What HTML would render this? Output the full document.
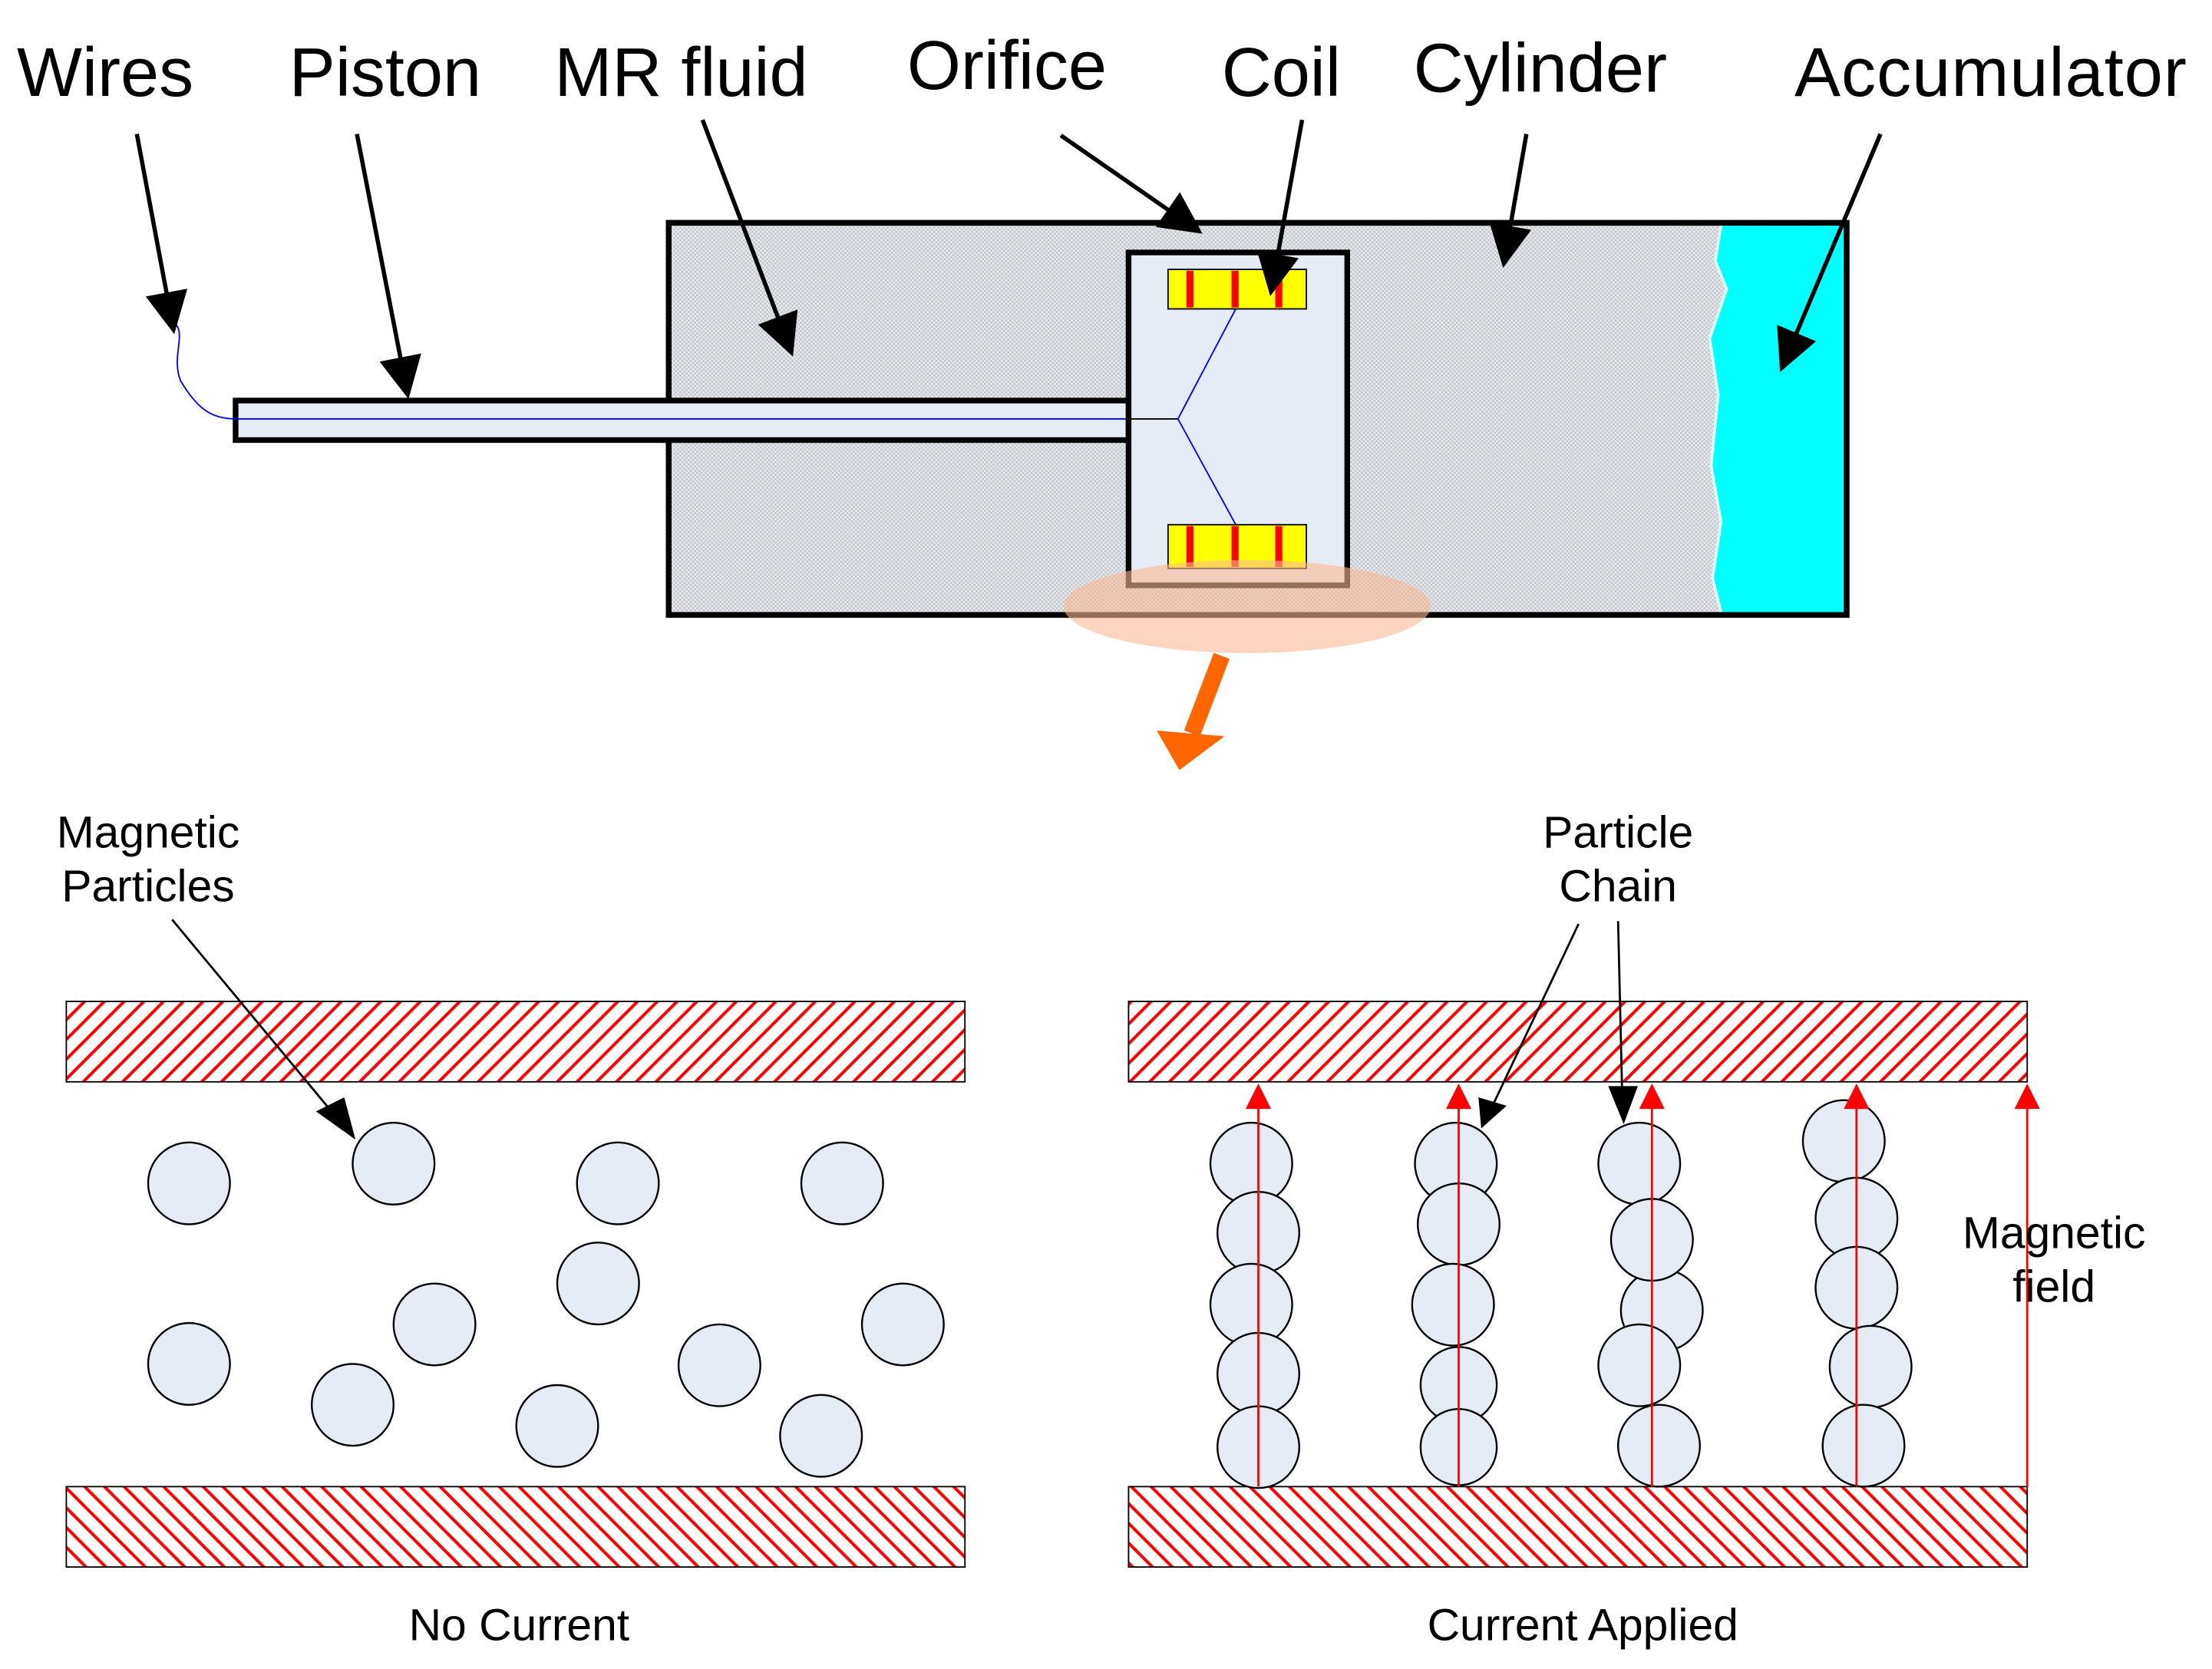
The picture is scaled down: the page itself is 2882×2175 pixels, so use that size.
<!DOCTYPE html>
<html><head><style>html,body{margin:0;padding:0;background:#fff}svg{display:block}</style></head>
<body>
<svg width="2882" height="2175" viewBox="0 0 1568 1183.3" preserveAspectRatio="none" xmlns="http://www.w3.org/2000/svg" font-family="Liberation Sans, Arial, sans-serif">
<defs>
<pattern id="chk" width="3" height="3" patternUnits="userSpaceOnUse">
<rect width="3" height="3" fill="#e6ecf5"/><rect width="1.5" height="1.5" fill="#c6c6c6"/><rect x="1.5" y="1.5" width="1.5" height="1.5" fill="#c6c6c6"/>
</pattern>
<pattern id="h1" width="14" height="14" patternUnits="userSpaceOnUse">
<rect width="14" height="14" fill="#fff"/><path d="M0 14 L14 0 M-7 7 L7 -7 M7 21 L21 7" stroke="#f00" stroke-width="2.2"/>
</pattern>
<pattern id="h2" width="14" height="14" patternUnits="userSpaceOnUse">
<rect width="14" height="14" fill="#fff"/><path d="M0 0 L14 14 M-7 7 L7 21 M7 -7 L21 7" stroke="#f00" stroke-width="2.2"/>
</pattern>
<marker id="ab2" viewBox="0 0 10 10" refX="9" refY="5" markerWidth="12" markerHeight="10" orient="auto" markerUnits="strokeWidth"><path d="M0 0 L10 5 L0 10 Z" fill="#000"/></marker>
<marker id="ar" viewBox="0 0 10 10" refX="9" refY="5" markerWidth="14" markerHeight="12" orient="auto" markerUnits="strokeWidth"><path d="M0 0 L10 5 L0 10 Z" fill="#f00"/></marker>
</defs>

<rect x="474" y="158" width="835" height="278" fill="url(#chk)" stroke="#000" stroke-width="4"/>
<path d="M1220 160 L1216 185 L1224 205 L1212 240 L1218 280 L1213 330 L1220 370 L1214 410 L1220 434 L1307 434 L1307 160 Z" fill="#00ffff"/>
<path d="M1220 160 L1216 185 L1224 205 L1212 240 L1218 280 L1213 330 L1220 370 L1214 410 L1220 434" fill="none" stroke="#ddffff" stroke-width="2"/>
<rect x="474" y="158" width="835" height="278" fill="none" stroke="#000" stroke-width="4"/>

<rect x="167" y="284" width="633" height="28" fill="#e6ecf5" stroke="#000" stroke-width="4"/>
<line x1="167" y1="297" x2="800" y2="297" stroke="#00f" stroke-width="1"/>
<path d="M167 297 C150 297 140 290 128 270 C122 255 130 240 126 232 C124 228 122 226 120 225" fill="none" stroke="#00f" stroke-width="1"/>

<rect x="800" y="179" width="155" height="236" fill="#e6ecf5" stroke="#000" stroke-width="4"/>
<line x1="800" y1="297" x2="835" y2="297" stroke="#000" stroke-width="1"/>
<path d="M876 219 L835 297 L876 372" fill="none" stroke="#00f" stroke-width="1"/>
<g stroke="#000" stroke-width="1">
<rect x="828" y="191" width="98" height="28" fill="#ff0"/>
<rect x="828" y="372" width="98" height="31" fill="#ff0"/>
</g>
<g fill="#f00">
<rect x="841" y="192" width="5" height="26"/><rect x="873" y="192" width="5" height="26"/><rect x="904" y="192" width="5" height="26"/>
<rect x="841" y="373" width="5" height="29"/><rect x="873" y="373" width="5" height="29"/><rect x="904" y="373" width="5" height="29"/>
</g>
<ellipse cx="884" cy="430" rx="130" ry="33" fill="#fbb993" opacity="0.6"/>
<line x1="866" y1="465" x2="845" y2="520" stroke="#ff6600" stroke-width="12"/>
<path d="M820 518 L868 522 L836 546 Z" fill="#ff6600"/>

<g font-size="49" fill="#000">
<text x="12" y="68">Wires</text>
<text x="205" y="68">Piston</text>
<text x="393" y="68">MR fluid</text>
<text x="643" y="63">Orifice</text>
<text x="866" y="68">Coil</text>
<text x="1002" y="65">Cylinder</text>
<text x="1272" y="68" textLength="278">Accumulator</text>
</g>
<g stroke="#000" stroke-width="3" marker-end="url(#ab2)">
<line x1="97" y1="95" x2="123" y2="234"/>
<line x1="253" y1="95" x2="289" y2="280"/>
<line x1="498" y1="85" x2="561" y2="250"/>
<line x1="752" y1="96" x2="850" y2="164"/>
<line x1="923" y1="85" x2="901" y2="207"/>
<line x1="1082" y1="95" x2="1066" y2="187"/>
<line x1="1333" y1="95" x2="1263" y2="261"/>
</g>

<rect x="47" y="710" width="637" height="57" fill="url(#h1)" stroke="#000" stroke-width="1"/>
<rect x="47" y="1054" width="637" height="57" fill="url(#h2)" stroke="#000" stroke-width="1"/>
<rect x="800" y="710" width="637" height="57" fill="url(#h1)" stroke="#000" stroke-width="1"/>
<rect x="800" y="1054" width="637" height="57" fill="url(#h2)" stroke="#000" stroke-width="1"/>

<g fill="#e6ecf5" stroke="#000" stroke-width="1.3">
<circle cx="134" cy="839" r="29"/><circle cx="279" cy="825" r="29"/><circle cx="438" cy="839" r="29"/><circle cx="597" cy="839" r="29"/>
<circle cx="424" cy="910" r="29"/><circle cx="308" cy="939" r="29"/><circle cx="134" cy="967" r="29"/><circle cx="250" cy="996" r="29"/>
<circle cx="395" cy="1011" r="29"/><circle cx="510" cy="968" r="29"/><circle cx="640" cy="939" r="29"/><circle cx="582" cy="1018" r="29"/>

<circle cx="887" cy="825" r="29"/><circle cx="892" cy="874" r="29"/><circle cx="887" cy="925" r="29"/><circle cx="892" cy="974" r="29"/><circle cx="892" cy="1026" r="29"/>
<circle cx="1032" cy="825" r="29"/><circle cx="1034" cy="868" r="29"/><circle cx="1030" cy="925" r="29"/><circle cx="1034" cy="982" r="27"/><circle cx="1034" cy="1026" r="27"/>
<circle cx="1162" cy="825" r="29"/><circle cx="1178" cy="929" r="29"/><circle cx="1171" cy="879" r="29"/><circle cx="1162" cy="968" r="29"/><circle cx="1176" cy="1025" r="29"/>
<circle cx="1307" cy="809" r="29"/><circle cx="1316" cy="864" r="29"/><circle cx="1316" cy="913" r="29"/><circle cx="1326" cy="969" r="29"/><circle cx="1321" cy="1025" r="29"/>
</g>

<g stroke="#f00" stroke-width="1.5" marker-end="url(#ar)">
<line x1="892" y1="1054" x2="892" y2="770"/>
<line x1="1034" y1="1054" x2="1034" y2="770"/>
<line x1="1171" y1="1054" x2="1171" y2="770"/>
<line x1="1316" y1="1054" x2="1316" y2="770"/>
<line x1="1437" y1="1054" x2="1437" y2="770"/>
</g>

<g stroke="#000" stroke-width="1.5">
<line x1="122" y1="652" x2="240" y2="794"/>
<line x1="1119" y1="655" x2="1058" y2="784"/>
<line x1="1147" y1="653" x2="1150" y2="780"/>
</g>
<path d="M224 788 L252 808 L244 778 Z" fill="#000"/>
<path d="M1048 778 L1050 800 L1068 784 Z" fill="#000"/>
<path d="M1140 770 L1151 797 L1161 770 Z" fill="#000"/>

<g font-size="32" fill="#000" text-anchor="middle">
<text x="105" y="601">Magnetic</text>
<text x="105" y="639">Particles</text>
<text x="1147" y="601">Particle</text>
<text x="1147" y="639">Chain</text>
<text x="1456" y="885">Magnetic</text>
<text x="1456" y="923">field</text>
<text x="368" y="1163">No Current</text>
<text x="1122" y="1163">Current Applied</text>
</g>
</svg>
</body></html>
